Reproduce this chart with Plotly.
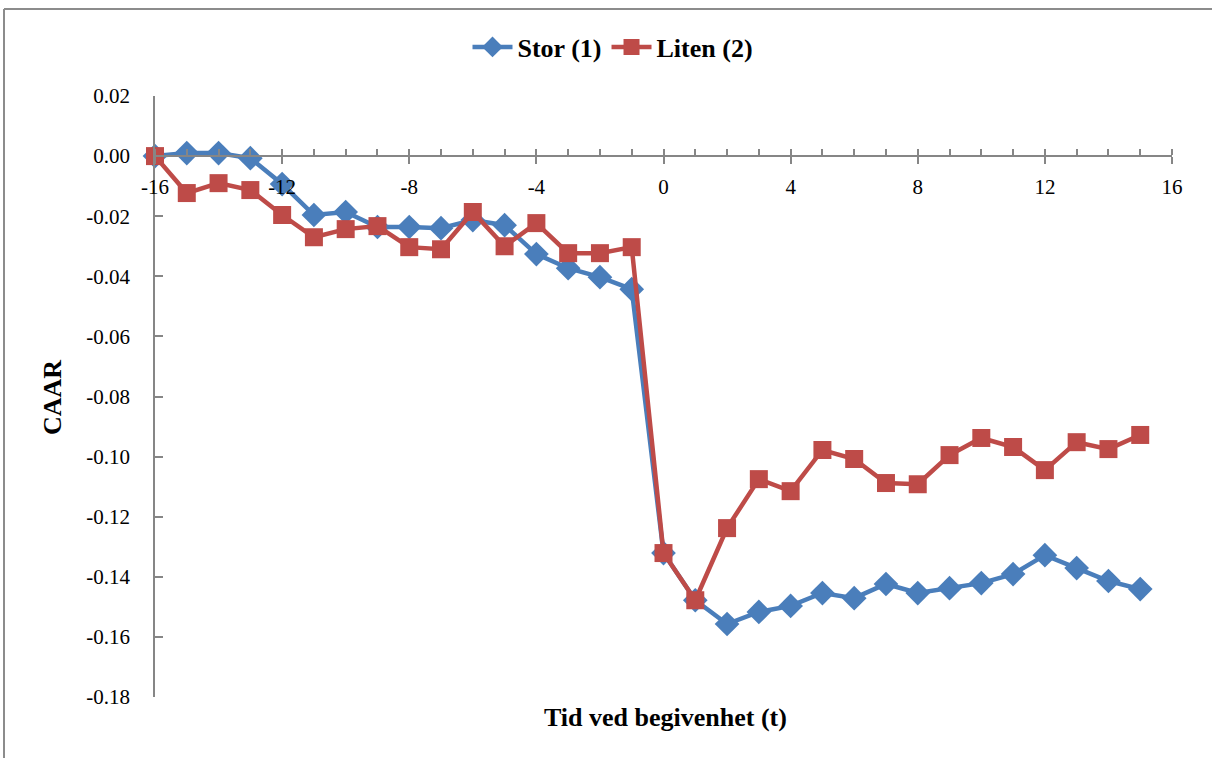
import plotly.graph_objects as go

# Event window (days relative to the event)
t = list(range(-16, 16))

# Cumulative average abnormal returns
stor = [0.000, 0.001, 0.001, -0.0007, -0.0093, -0.0196, -0.0186, -0.0236,
        -0.0236, -0.0240, -0.0213, -0.0230, -0.0326, -0.0373, -0.0403, -0.0443,
        -0.1321, -0.1478, -0.1557, -0.1517, -0.1497, -0.1454, -0.1471, -0.1424,
        -0.1454, -0.1438, -0.1421, -0.1391, -0.1328, -0.1371, -0.1414, -0.1441]
liten = [0.000, -0.0123, -0.0090, -0.0113, -0.0196, -0.0270, -0.0243, -0.0233,
         -0.0303, -0.0310, -0.0186, -0.0300, -0.0223, -0.0323, -0.0323, -0.0303,
         -0.1321, -0.1478, -0.1238, -0.1075, -0.1115, -0.0978, -0.1008, -0.1088,
         -0.1092, -0.0995, -0.0938, -0.0968, -0.1045, -0.0952, -0.0975, -0.0928]

x_ticks = [-16, -12, -8, -4, 0, 4, 8, 12, 16]
x_labels = ["-16", "-12", "-8", "-4", "0", "4", "8", "12", "16"]
y_ticks = [0.02, 0.00, -0.02, -0.04, -0.06, -0.08, -0.10, -0.12, -0.14, -0.16, -0.18]
y_labels = ["0.02", "0.00", "-0.02", "-0.04", "-0.06", "-0.08", "-0.10", "-0.12",
            "-0.14", "-0.16", "-0.18"]

BLUE = "#4A7EBB"
RED = "#BE4B48"
AXIS = "#868686"
FONT = "Liberation Serif"

fig = go.Figure()
fig.add_trace(go.Scatter(
    x=t, y=stor, name="Stor (1)", mode="lines+markers",
    line=dict(color=BLUE, width=4.5),
    marker=dict(symbol="diamond", size=19, color=BLUE),
    cliponaxis=False,
))
fig.add_trace(go.Scatter(
    x=t, y=liten, name="Liten (2)", mode="lines+markers",
    line=dict(color=RED, width=4.5),
    marker=dict(symbol="square", size=18, color=RED),
    cliponaxis=False,
))
# helper trace so the upper half of the crossing major ticks is drawn
fig.add_trace(go.Scatter(
    x=[-16, 16], y=[0, 0], xaxis="x2", yaxis="y", mode="lines",
    line=dict(width=0, color="rgba(0,0,0,0)"), showlegend=False, hoverinfo="skip",
))

W, H = 1212, 758
ml, mr, mt, mb = 155, 40, 96, 61
pw, ph = W - ml - mr, H - mt - mb


def px_x(p):
    return (p - ml) / pw


def px_y(p):
    return (H - mb - p) / ph


fig.update_layout(
    width=W, height=H,
    margin=dict(l=ml, r=mr, t=mt, b=mb),
    paper_bgcolor="white", plot_bgcolor="white",
    font=dict(family=FONT, size=21, color="black"),
    showlegend=True,
    legend=dict(
        orientation="h", x=px_x(613), y=px_y(47), xanchor="center", yanchor="middle",
        font=dict(family=FONT, size=26, color="black", weight="bold"),
        itemwidth=40, tracegroupgap=0, bgcolor="rgba(0,0,0,0)",
    ),
    xaxis=dict(
        range=[-16, 16], anchor="free", position=0.9,
        tickmode="array", tickvals=x_ticks, ticktext=x_labels,
        ticks="outside", ticklen=7, tickwidth=1.5, tickcolor=AXIS,
        ticklabelstandoff=5,
        showline=True, linecolor=AXIS, linewidth=1.5,
        showgrid=False, zeroline=False,
        tickfont=dict(family=FONT, size=21, color="black"),
        minor=dict(tickmode="linear", tick0=-16, dtick=1, ticks="inside",
                   ticklen=6, tickwidth=1.5, tickcolor=AXIS, showgrid=False),
    ),
    xaxis2=dict(
        range=[-16, 16], overlaying="x", anchor="free", position=0.9,
        tickmode="array", tickvals=x_ticks, ticktext=[""] * len(x_ticks),
        ticks="inside", ticklen=7, tickwidth=1.5, tickcolor=AXIS,
        showline=False, showgrid=False, zeroline=False, showticklabels=False,
    ),
    yaxis=dict(
        range=[-0.18, 0.02], domain=[0, 1],
        tickmode="array", tickvals=y_ticks, ticktext=y_labels,
        ticks="inside", ticklen=8, tickwidth=1.5, tickcolor=AXIS,
        ticklabelstandoff=19,
        showline=True, linecolor=AXIS, linewidth=1.5,
        showgrid=False, zeroline=False,
        tickfont=dict(family=FONT, size=21, color="black"),
    ),
    annotations=[
        dict(text="<b>Tid ved begivenhet (t)</b>", xref="paper", yref="paper",
             x=px_x(665), y=px_y(717), xanchor="center", yanchor="middle",
             showarrow=False, font=dict(family=FONT, size=26, color="black")),
        dict(text="<b>CAAR</b>", xref="paper", yref="paper", textangle=-90,
             x=px_x(52), y=px_y(398), xanchor="center", yanchor="middle",
             showarrow=False, font=dict(family=FONT, size=26, color="black")),
    ],
    shapes=[
        # outer chart frame (top and left edges fall inside the page)
        dict(type="line", xref="paper", yref="paper",
             x0=px_x(4), x1=px_x(1212), y0=px_y(9), y1=px_y(9),
             line=dict(color="#8C8C8C", width=2), layer="below"),
        dict(type="line", xref="paper", yref="paper",
             x0=px_x(4), x1=px_x(4), y0=px_y(9), y1=px_y(758),
             line=dict(color="#8C8C8C", width=2), layer="below"),
    ],
)

fig.write_html("out.html")
